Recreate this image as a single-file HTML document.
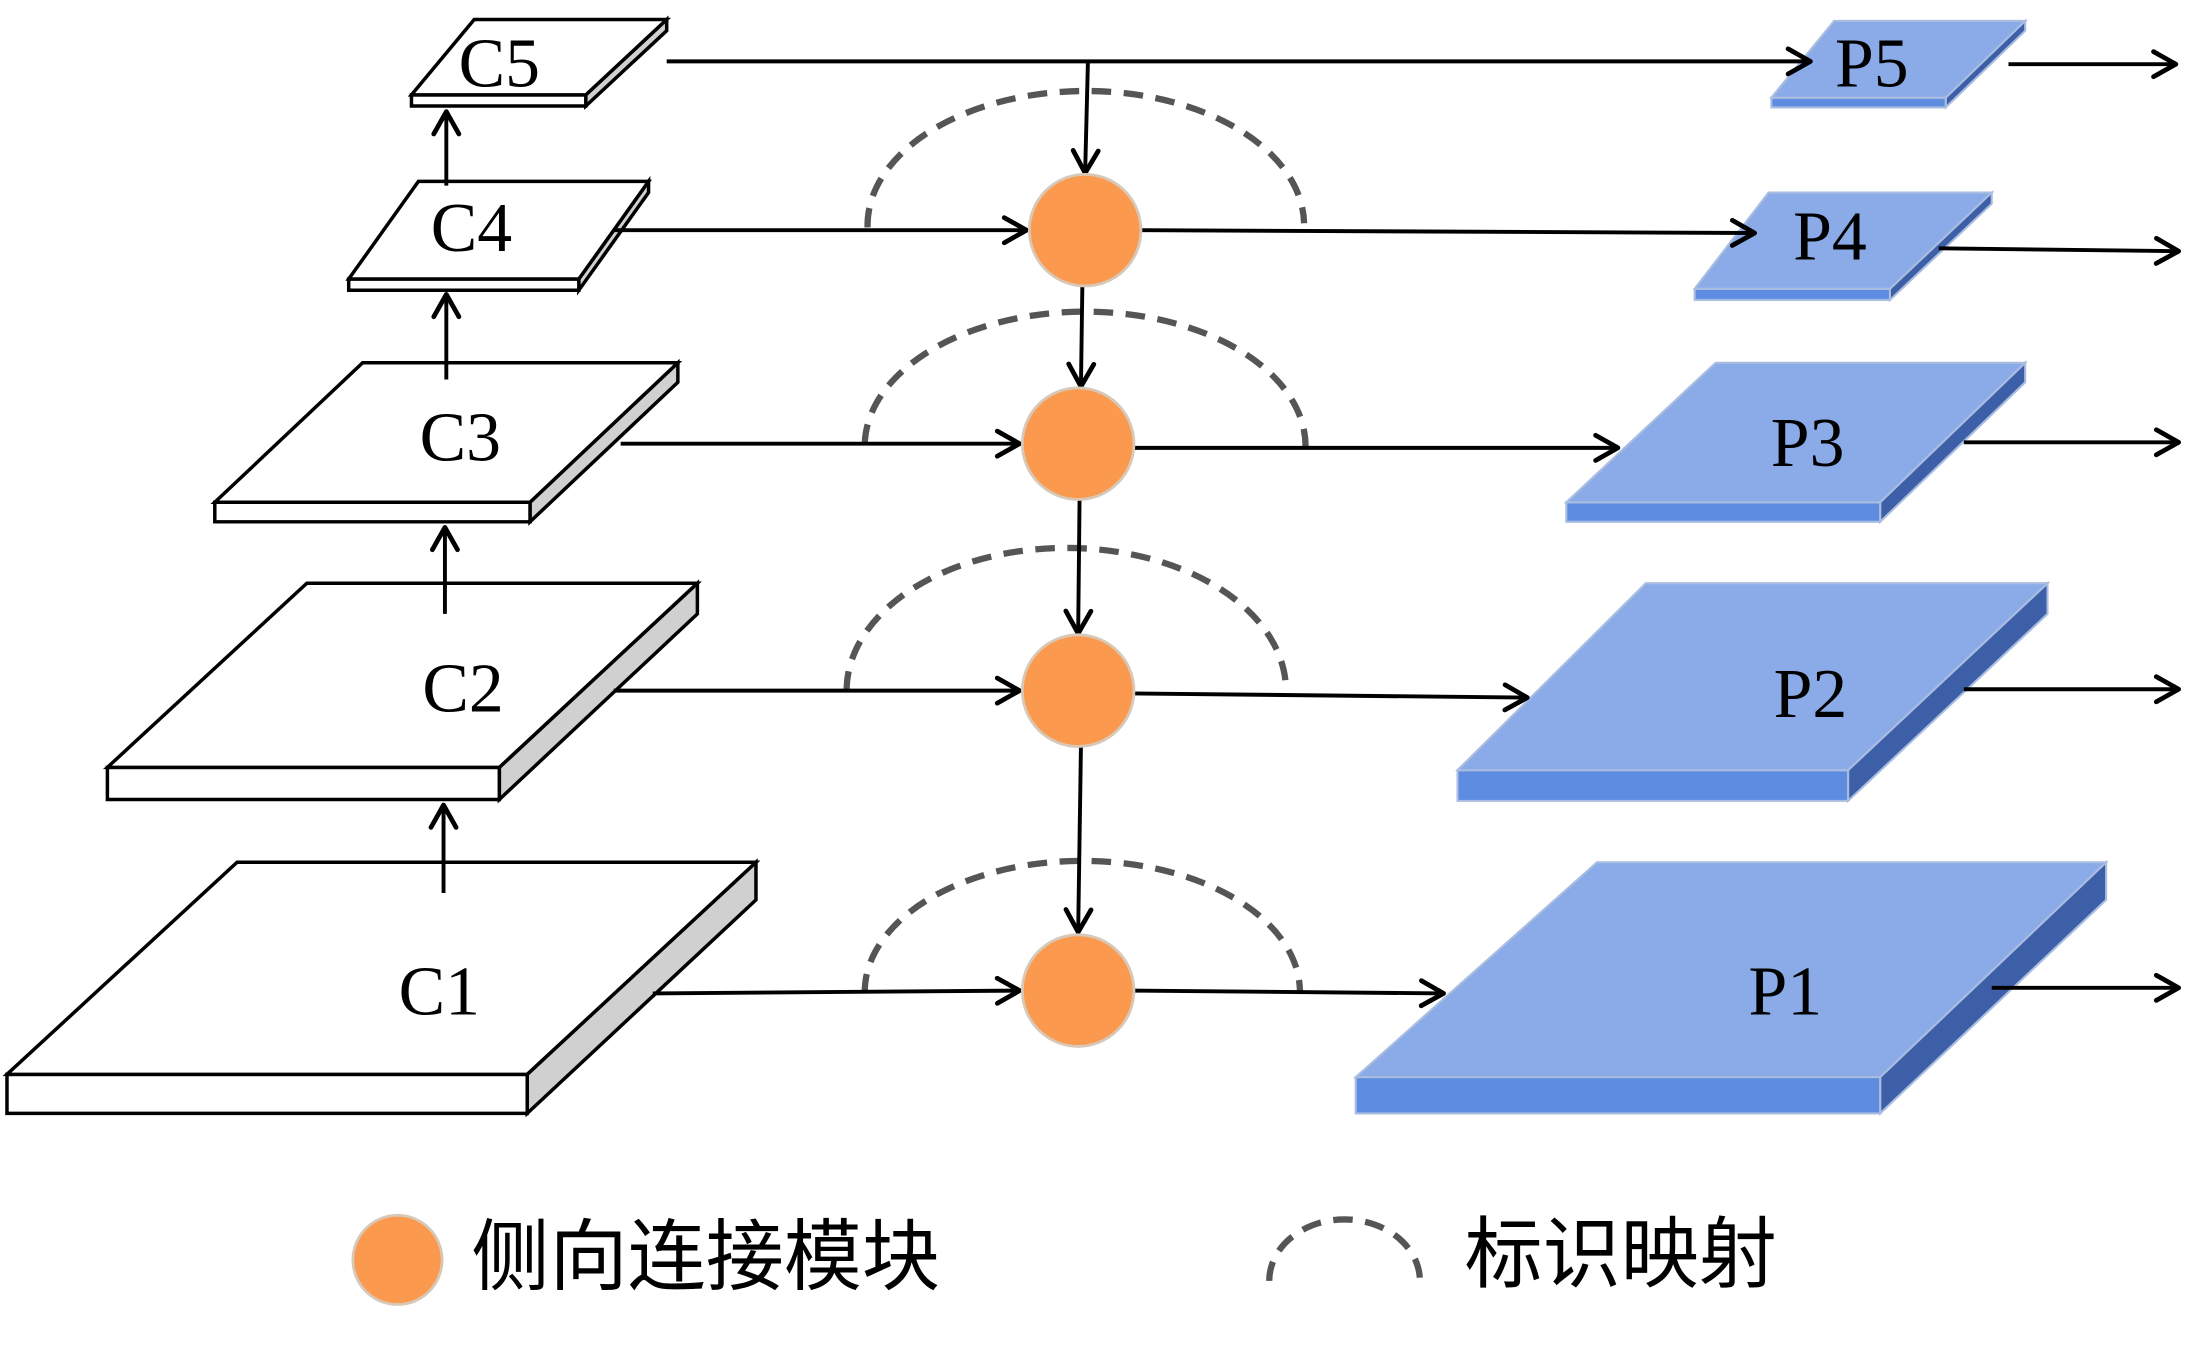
<!DOCTYPE html>
<html><head><meta charset="utf-8"><style>html,body{margin:0;padding:0;background:#fff}svg{display:block}</style></head><body>
<svg width="2187" height="1345" viewBox="0 0 1568 964" preserveAspectRatio="none" xmlns="http://www.w3.org/2000/svg">
<defs>
<marker id="a" viewBox="0 0 24 24" refX="22" refY="12" markerWidth="24" markerHeight="24" markerUnits="userSpaceOnUse" orient="auto" overflow="visible">
<path d="M6,3 L22,12 L6,21" fill="none" stroke="#000" stroke-width="3.4" stroke-linecap="round" stroke-linejoin="round"/>
</marker>
</defs>
<g stroke="#000" stroke-width="2.5" stroke-linejoin="miter">
<polygon points="378,770 542,618 542,645 378,798" fill="#d0d0d0"/>
<polygon points="5,770 378,770 378,798 5,798" fill="#fff"/>
<polygon points="5,770 170,618 542,618 378,770" fill="#fff"/>
<polygon points="358,550 500,418 500,440 358,573" fill="#d0d0d0"/>
<polygon points="77,550 358,550 358,573 77,573" fill="#fff"/>
<polygon points="77,550 220,418 500,418 358,550" fill="#fff"/>
<polygon points="380,360 486,260 486,274 380,374" fill="#d0d0d0"/>
<polygon points="154,360 380,360 380,374 154,374" fill="#fff"/>
<polygon points="154,360 260,260 486,260 380,360" fill="#fff"/>
<polygon points="415,200 465,130 465,138 415,208" fill="#d0d0d0"/>
<polygon points="250,200 415,200 415,208 250,208" fill="#fff"/>
<polygon points="250,200 300,130 465,130 415,200" fill="#fff"/>
<polygon points="420,68 478,14 478,22 420,76" fill="#d0d0d0"/>
<polygon points="295,68 420,68 420,76 295,76" fill="#fff"/>
<polygon points="295,68 340,14 478,14 420,68" fill="#fff"/>
</g>
<g stroke="#a9bde0" stroke-width="1.5">
<polygon points="1348,772 1510,618 1510,645 1348,798" fill="#3d5fa8"/>
<polygon points="972,772 1348,772 1348,798 972,798" fill="#5e8ce0"/>
<polygon points="972,772 1145,618 1510,618 1348,772" fill="#8aaae8"/>
<polygon points="1325,552 1468,418 1468,440 1325,574" fill="#3d5fa8"/>
<polygon points="1045,552 1325,552 1325,574 1045,574" fill="#5e8ce0"/>
<polygon points="1045,552 1180,418 1468,418 1325,552" fill="#8aaae8"/>
<polygon points="1348,360 1452,260 1452,274 1348,374" fill="#3d5fa8"/>
<polygon points="1123,360 1348,360 1348,374 1123,374" fill="#5e8ce0"/>
<polygon points="1123,360 1230,260 1452,260 1348,360" fill="#8aaae8"/>
<polygon points="1355,207 1428,138 1428,146 1355,215" fill="#3d5fa8"/>
<polygon points="1215,207 1355,207 1355,215 1215,215" fill="#5e8ce0"/>
<polygon points="1215,207 1268,138 1428,138 1355,207" fill="#8aaae8"/>
<polygon points="1395,70 1452,15 1452,22 1395,77" fill="#3d5fa8"/>
<polygon points="1270,70 1395,70 1395,77 1270,77" fill="#5e8ce0"/>
<polygon points="1270,70 1315,15 1452,15 1395,70" fill="#8aaae8"/>
</g>
<g fill="none" stroke="#555" stroke-width="4.5" stroke-dasharray="14,9">
<path d="M622,163 A156,96 0 0 1 935,160"/>
<path d="M620,318 A157,96 0 0 1 936,322"/>
<path d="M607,495 A157,102 0 0 1 922,495"/>
<path d="M620,712 A156,94 0 0 1 932,710"/>
<path d="M910,918 A54,44 0 0 1 1018,918"/>
</g>
<g stroke="#000" stroke-width="2.8" fill="none" marker-end="url(#a)">
<line x1="478" y1="44" x2="1298" y2="44"/>
<line x1="780" y1="44" x2="778" y2="124"/>
<line x1="440" y1="165" x2="736" y2="165"/>
<line x1="818" y1="165" x2="1258" y2="167"/>
<line x1="776" y1="205" x2="775" y2="277"/>
<line x1="445" y1="318" x2="731" y2="318"/>
<line x1="813" y1="321" x2="1160" y2="321"/>
<line x1="774" y1="358" x2="773" y2="454"/>
<line x1="440" y1="495" x2="731" y2="495"/>
<line x1="813" y1="497" x2="1095" y2="500"/>
<line x1="775" y1="535" x2="773" y2="668"/>
<line x1="468" y1="712" x2="731" y2="710"/>
<line x1="813" y1="710" x2="1035" y2="712"/>
<line x1="1440" y1="46" x2="1560" y2="46"/>
<line x1="1390" y1="178" x2="1562" y2="180"/>
<line x1="1408" y1="317" x2="1562" y2="317"/>
<line x1="1408" y1="494" x2="1562" y2="494"/>
<line x1="1428" y1="708" x2="1562" y2="708"/>
<line x1="318" y1="640" x2="318" y2="577"/>
<line x1="319" y1="440" x2="319" y2="378"/>
<line x1="320" y1="272" x2="320" y2="211"/>
<line x1="320" y1="133" x2="320" y2="80"/>
</g>
<g fill="#fb9a4f" stroke="#d8c8b8" stroke-width="2">
<circle cx="778" cy="165" r="40"/>
<circle cx="773" cy="318" r="40"/>
<circle cx="773" cy="495" r="40"/>
<circle cx="773" cy="710" r="40"/>
<circle cx="285" cy="903" r="32"/>
</g>
<g font-family="Liberation Serif, serif" font-size="50" text-anchor="middle" fill="#000">
<text x="358" y="62">C5</text>
<text x="338" y="180">C4</text>
<text x="330" y="330">C3</text>
<text x="332" y="510">C2</text>
<text x="315" y="727">C1</text>
<text x="1342" y="62">P5</text>
<text x="1312" y="186">P4</text>
<text x="1296" y="334">P3</text>
<text x="1298" y="514">P2</text>
<text x="1280" y="727">P1</text>
</g>
<g font-family="Liberation Sans, Noto Sans CJK SC, sans-serif" font-size="56" fill="#000">
<text x="338" y="920">侧向连接模块</text>
<text x="1050" y="918">标识映射</text>
</g>
</svg>
</body></html>
